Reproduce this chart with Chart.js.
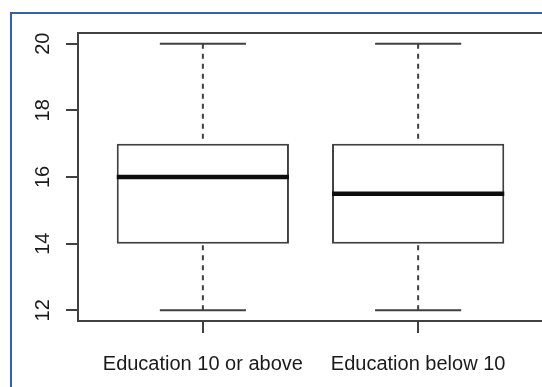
<!DOCTYPE html>
<html>
<head>
<meta charset="utf-8">
<script src="https://cdn.jsdelivr.net/npm/chart.js@4/dist/chart.umd.min.js"></script>
<style>
  html, body { margin: 0; padding: 0; background: #fff; overflow: hidden; width: 542px; height: 387px; }
  #frame { position: absolute; left: 10px; top: 12px; width: 620px; height: 500px;
           border-top: 2px solid #3660aa; border-left: 2px solid #3660aa; box-sizing: border-box; }
  #wrap { position: absolute; left: 0; top: 0; width: 560px; height: 387px; }
</style>
</head>
<body>
<div id="frame"></div>
<div id="wrap"><canvas id="c" width="560" height="387"></canvas></div>
<script>
// Five-number summaries per education group
const groups = ['Education 10 or above', 'Education below 10'];
const minima = [12, 12];
const lowerQuartiles = [14, 14];
const medians = [16, 15.5];
const upperQuartiles = [17, 17];
const maxima = [20, 20];
const yTicks = [12, 14, 16, 18, 20];

// Geometry in x-axis units (groups sit at 1, 2, ...)
const BOX_HALF = 0.4;
const CAP_HALF = 0.2;
const positions = groups.map((_, i) => i + 1);

// Turn a list of segments into one line series broken by gaps
function segments(list) {
  const pts = [];
  list.forEach((seg, k) => {
    if (k) pts.push({ x: seg[0].x, y: null });
    pts.push(seg[0], seg[1]);
  });
  return pts;
}

const medianSegs = positions.map((x, i) => [
  { x: x - BOX_HALF, y: medians[i] }, { x: x + BOX_HALF, y: medians[i] }
]);
const whiskerSegs = positions.flatMap((x, i) => [
  [{ x, y: maxima[i] }, { x, y: upperQuartiles[i] }],
  [{ x, y: minima[i] }, { x, y: lowerQuartiles[i] }]
]);
const capSegs = positions.flatMap((x, i) => [
  [{ x: x - CAP_HALF, y: maxima[i] }, { x: x + CAP_HALF, y: maxima[i] }],
  [{ x: x - CAP_HALF, y: minima[i] }, { x: x + CAP_HALF, y: minima[i] }]
]);

const INK = '#404040';
const FONT = '"Liberation Sans", Arial, sans-serif';

const lineBase = { type: 'line', pointRadius: 0, pointHoverRadius: 0, tension: 0, fill: false, spanGaps: false };

// Closed rectangle around the plotting region
const plotFrame = {
  id: 'plotFrame',
  beforeDatasetsDraw(chart) {
    const { ctx, chartArea: a } = chart;
    ctx.save();
    ctx.strokeStyle = INK;
    ctx.lineWidth = 2;
    ctx.strokeRect(a.left, a.top, a.right - a.left, a.bottom - a.top);
    ctx.restore();
  }
};

new Chart(document.getElementById('c'), {
  type: 'bar',
  data: {
    datasets: [
      Object.assign({}, lineBase, { label: 'median', data: segments(medianSegs), borderColor: '#0d0d0d', borderWidth: 4.5, borderCapStyle: 'butt' }),
      {
        type: 'bar', label: 'box',
        data: positions.map((x, i) => ({ x, y: [lowerQuartiles[i], upperQuartiles[i]] })),
        backgroundColor: '#fff', borderColor: INK, borderWidth: 2, borderSkipped: false,
        barPercentage: 1, categoryPercentage: 2 * BOX_HALF
      },
      Object.assign({}, lineBase, { label: 'cap', data: segments(capSegs), borderColor: INK, borderWidth: 2 }),
      Object.assign({}, lineBase, { label: 'whisker', data: segments(whiskerSegs), borderColor: INK, borderWidth: 2, borderDash: [5, 5] })
    ]
  },
  options: {
    responsive: false,
    animation: false,
    devicePixelRatio: 1,
    layout: { padding: { left: 0, top: 33, right: 17, bottom: 0 } },
    plugins: { legend: { display: false }, tooltip: { enabled: false } },
    events: [],
    scales: {
      x: {
        type: 'linear', min: 0.42, max: 2.58, offset: false,
        afterBuildTicks: s => { s.ticks = positions.map(v => ({ value: v })); },
        afterFit: s => { s.height = 66; },
        border: { display: false },
        grid: { offset: false, drawOnChartArea: false, drawTicks: true, tickLength: 12, color: INK, lineWidth: 2 },
        ticks: {
          autoSkip: false, minRotation: 0, maxRotation: 0, padding: 19, color: '#1a1a1a',
          font: { family: FONT, size: 20 },
          callback: v => groups[Math.round(v) - 1]
        }
      },
      y: {
        type: 'linear', min: 11.68, max: 20.32,
        afterBuildTicks: s => { s.ticks = yTicks.map(v => ({ value: v })); },
        afterFit: s => { s.width = 78; },
        border: { display: false },
        grid: { drawOnChartArea: false, drawTicks: true, tickLength: 12, color: INK, lineWidth: 2 },
        ticks: {
          minRotation: 90, maxRotation: 90, crossAlign: 'center', padding: 11, color: '#1a1a1a',
          font: { family: FONT, size: 20 },
          callback: v => String(v)
        }
      }
    }
  },
  plugins: [plotFrame]
});
</script>
</body>
</html>
